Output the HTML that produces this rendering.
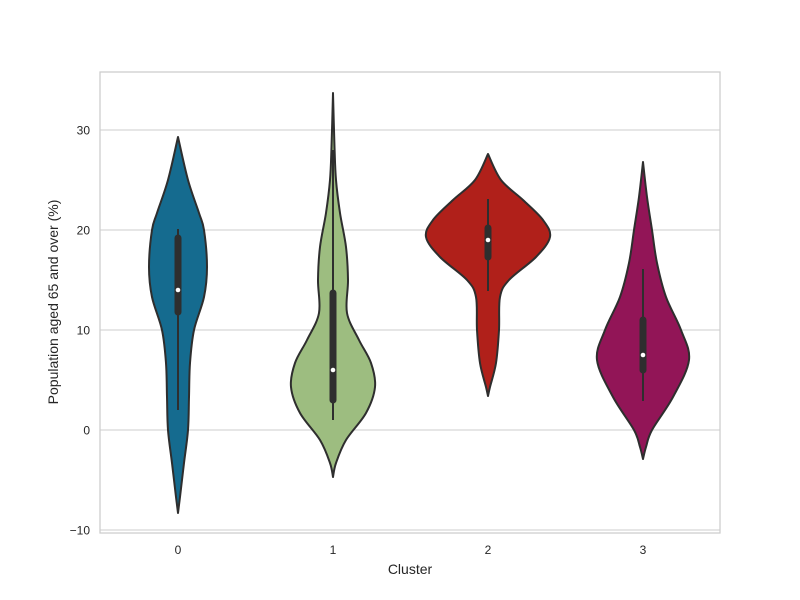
<!DOCTYPE html>
<html><head><meta charset="utf-8"><style>
body{margin:0;background:#fff}
svg{display:block;font-family:"Liberation Sans",sans-serif}
</style></head><body>
<svg id="chart" width="800" height="600" viewBox="0 0 800 600">
<rect x="0" y="0" width="800" height="600" fill="#fff"/>
<g id="grid"></g>
<g id="violins"></g>
<rect x="100" y="72" width="620" height="461" fill="none" stroke="#cccccc" stroke-width="1.25"/>
<g id="ticks"></g>
<text x="410" y="574" text-anchor="middle" font-size="14" fill="#262626">Cluster</text>
<text transform="translate(58,302) rotate(-90)" text-anchor="middle" font-size="14" fill="#262626">Population aged 65 and over (%)</text>
</svg>
<script>
const categories = ["0","1","2","3"];
const colors = ["#156b8f","#9dbd80","#b0201a","#921557"];
const yTicks = [-10,0,10,20,30];
// density profiles: values and half-widths (px) per violin
const profVals0 = [29.3,25,21.7,20,16.3,13.3,10,6.7,3.3,0,-3.3,-6.7,-8.3];
const profW0 =    [0,10,21,26,29,26,16,12,11,10,6,2,0];
const profVals1 = [33.7,28.3,25,21.7,18.3,15,11.7,9,6.7,4.3,1.7,-1,-3.3,-4.7];
const profW1 =    [0,1.5,3,7,13,15,14,26,38,42,33,13,3,0];
const profVals2 = [27.6,25,23,21,19.3,17.3,15,13.3,10,6.7,4.3,3.4];
const profW2 =    [0,13,35,55,62,48,21,12,11,8,2,0];
const profVals3 = [26.8,23.3,20,16.7,13.3,10,7,3.3,0,-1.7,-2.9];
const profW3 =    [0,4,9,14,23,38,46,30,9,3,0];
const q1 = [11.8,3,17.3,6];
const q3 = [19.2,13.7,20.2,11];
const medians = [14,6,19,7.5];
const whiskLo = [2,1,13.9,2.9];
const whiskHi = [20.1,28,23.1,16.1];

const profVals=[profVals0,profVals1,profVals2,profVals3];
const profW=[profW0,profW1,profW2,profW3];
const NS="http://www.w3.org/2000/svg";
const y=v=>430-10*v;
const x=i=>178+155*i;
function mk(t,a,p){const e=document.createElementNS(NS,t);for(const k in a)e.setAttribute(k,a[k]);p.appendChild(e);return e;}
const grid=document.getElementById('grid'),ticks=document.getElementById('ticks'),vg=document.getElementById('violins');
yTicks.forEach(t=>{
  const l=mk('line',{x1:100,x2:720,y1:y(t),y2:y(t),stroke:'#cccccc','stroke-width':1.1},grid);
  
  
  const tx=mk('text',{x:90,y:y(t)+4.5,'text-anchor':'end','font-size':12,fill:'#262626'},ticks);
  tx.textContent=(t<0?'\u2212':'')+Math.abs(t);
  
  
});
categories.forEach((c,i)=>{
  const tx=mk('text',{x:x(i),y:554,'text-anchor':'middle','font-size':12,fill:'#262626'},ticks);
  tx.textContent=c;
  
  
});
function smooth(pts){
  let d='M'+pts[0][0]+','+pts[0][1];
  for(let i=0;i<pts.length-1;i++){
    const p0=pts[Math.max(0,i-1)],p1=pts[i],p2=pts[i+1],p3=pts[Math.min(pts.length-1,i+2)];
    const c1=[p1[0]+(p2[0]-p0[0])/6,p1[1]+(p2[1]-p0[1])/6];
    const c2=[p2[0]-(p3[0]-p1[0])/6,p2[1]-(p3[1]-p1[1])/6];
    d+=' C'+c1[0]+','+c1[1]+' '+c2[0]+','+c2[1]+' '+p2[0]+','+p2[1];
  }
  return d;
}
categories.forEach((c,i)=>{
  const cx=x(i),vs=profVals[i],ws=profW[i];
  const right=vs.map((v,k)=>[cx+ws[k],y(v)]);
  const left=vs.map((v,k)=>[cx-ws[k],y(v)]).reverse();
  const d=smooth(right)+' L'+smooth(left).slice(1)+' Z';
  const p=mk('path',{d:d,fill:colors[i],stroke:'#2e2e2e','stroke-width':2,'stroke-linejoin':'round'},vg);
  
  
  const w=mk('line',{x1:cx,x2:cx,y1:y(whiskLo[i]),y2:y(whiskHi[i]),stroke:'#2e2e2e','stroke-width':2},vg);
  
  
  const b=mk('line',{x1:cx,x2:cx,y1:y(q1[i]),y2:y(q3[i]),stroke:'#2e2e2e','stroke-width':7,'stroke-linecap':'round'},vg);
  
  
  const m=mk('circle',{cx:cx,cy:y(medians[i]),r:2.3,fill:'#fff'},vg);
  
  
});
</script>
</body></html>
